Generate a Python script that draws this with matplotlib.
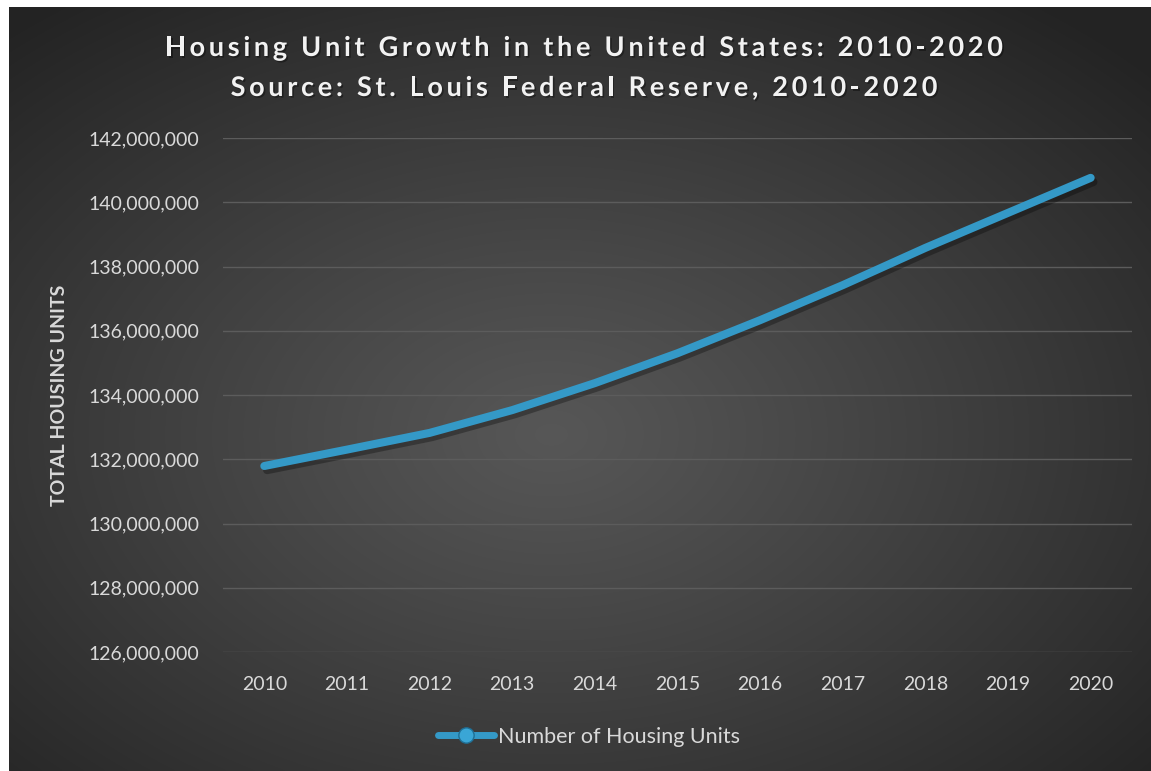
import numpy as np
import matplotlib
matplotlib.use("Agg")
import matplotlib.pyplot as plt
import matplotlib.patheffects as pe
from matplotlib.lines import Line2D
from matplotlib.ticker import FuncFormatter

plt.rcParams.update({
    "font.family": ["Lato", "DejaVu Sans"],
    "font.size": 14,
})

years = [2010, 2011, 2012, 2013, 2014, 2015, 2016, 2017, 2018, 2019, 2020]
housing_units = [131790000, 132300000, 132820000, 133530000, 134370000,
                 135300000, 136330000, 137420000, 138580000, 139670000,
                 140760000]

TITLE_1 = "Housing Unit Growth in the United States: 2010-2020"
TITLE_2 = "Source: St. Louis Federal Reserve, 2010-2020"
LINE_COLOR = "#3499c7"
TEXT_COLOR = "#d9d9d9"
W, H = 1151, 771

fig = plt.figure(figsize=(W / 100, H / 100), dpi=100, facecolor="white")

# dark radial backdrop
bg = fig.add_axes([9 / W, 0, 1 - 9 / W, 1 - 7 / H])
bg.set_axis_off()
gx, gy = np.meshgrid(np.linspace(-1, 1, 600), np.linspace(-1, 1, 400))
r = np.sqrt((gx + 0.05) ** 2 + (gy - 0.12) ** 2) / np.sqrt(2)
r = np.clip(r, 0, 1)
shade = 0.34 - 0.20 * r ** 1.1
bg.imshow(np.dstack([shade, shade, shade]), aspect="auto",
          extent=[0, 1, 0, 1], interpolation="bilinear")
bg.set_xlim(0, 1)
bg.set_ylim(0, 1)

ax = fig.add_axes([223 / W, (H - 652) / H, (1132 - 223) / W, (652 - 138) / H])
ax.patch.set_alpha(0)
for s in ax.spines.values():
    s.set_visible(False)

xs = np.arange(len(years))
ax.plot(xs, housing_units, color=LINE_COLOR, lw=5.8, solid_capstyle="round",
        solid_joinstyle="round", zorder=3,
        path_effects=[pe.SimpleLineShadow(offset=(2, -3), shadow_color="black",
                                          alpha=0.3),
                      pe.Normal()])

ax.set_xlim(-0.5, len(years) - 0.5)
ax.set_ylim(126000000, 142000000)
ax.set_yticks(np.arange(126000000, 142000001, 2000000))
ax.yaxis.set_major_formatter(FuncFormatter(lambda v, p: f"{v:,.0f}"))
ax.set_xticks(xs)
ax.set_xticklabels([str(y) for y in years])
ax.grid(axis="y", color="#5c5c5c", lw=1.0, zorder=1)
ax.tick_params(axis="both", length=0, colors=TEXT_COLOR, labelsize=14)
ax.tick_params(axis="y", pad=17)
ax.tick_params(axis="x", pad=17)
ax.set_axisbelow(True)

fig.text(60 / W, 1 - 395 / H, "TOTAL HOUSING UNITS", rotation=90,
         ha="center", va="center", fontsize=14, fontweight="bold",
         color=TEXT_COLOR)


def tracked_text(s, xc, yc, track, **kw):
    # draw a string one glyph at a time with extra letter spacing (px)
    renderer = fig.canvas.get_renderer()

    def width(t):
        tt = fig.text(0, 0, t, **kw)
        w = tt.get_window_extent(renderer).width
        tt.remove()
        return w

    space_w = width("x x") - width("xx")
    widths = [space_w if c == " " else width(c) for c in s]
    total = sum(widths) + track * (len(s) - 1)
    x = xc - total / 2
    shadow = [pe.SimplePatchShadow(offset=(1.2, -1.2), shadow_rgbFace="black",
                                   alpha=0.35), pe.Normal()]
    for c, w in zip(s, widths):
        if c != " ":
            fig.text(x / W, 1 - yc / H, c, ha="left", va="center",
                     path_effects=shadow, **kw)
        x += w + track


title_kw = dict(fontsize=19.5, fontweight="bold", color="#f2f2f2")
tracked_text(TITLE_1, 584, 48, 3.7, **title_kw)
tracked_text(TITLE_2, 584, 88, 3.7, **title_kw)

handle = Line2D([], [], color=LINE_COLOR, lw=5, solid_capstyle="round",
                marker="o", markersize=11, markerfacecolor="#3aa6d6",
                markeredgecolor="#1f6f95", markeredgewidth=1)
leg = fig.legend([handle], ["Number of Housing Units"], loc="center",
                 bbox_to_anchor=(589 / W, 1 - 737 / H), frameon=False,
                 handlelength=2.6, handletextpad=0.2, fontsize=15.5)
for t in leg.get_texts():
    t.set_color(TEXT_COLOR)

fig.savefig("out.png", dpi=100, facecolor="white")
